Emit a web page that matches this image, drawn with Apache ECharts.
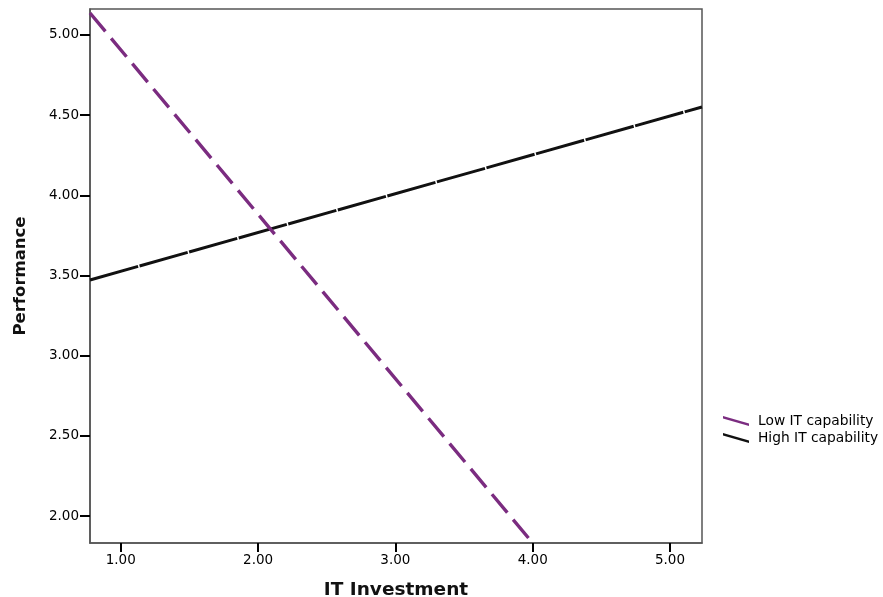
<!DOCTYPE html>
<html>
<head>
<meta charset="utf-8">
<script src="https://cdn.jsdelivr.net/npm/echarts@6/dist/echarts.min.js"></script>
<style>
html,body{margin:0;padding:0;background:#fff;}
#c{width:883px;height:597px;}
</style>
</head>
<body>
<div id="c"></div>
<script>
var seriesNames = ['Low IT capability', 'High IT capability'];
var lowX = [0.776, 4.0];
var lowY = [5.137, 1.832];
var highX = [0.776, 5.233];
var highY = [3.472, 4.551];
var xTicks = [1, 2, 3, 4, 5];
var yTicks = [2, 2.5, 3, 3.5, 4, 4.5, 5];
var xRange = [0.776, 5.233];
var yRange = [1.832, 5.162];

function pairs(xs, ys) { return xs.map(function (x, i) { return [x, ys[i]]; }); }

var chart = echarts.init(document.getElementById('c'));
var font = '"DejaVu Sans", sans-serif';
chart.setOption({
  animation: false,
  backgroundColor: '#fff',
  grid: { left: 90, top: 9, right: 181, bottom: 54, containLabel: false, outerBoundsMode: 'none', show: true, borderColor: '#555', borderWidth: 1.5, backgroundColor: 'transparent' },
  xAxis: {
    type: 'value', min: xRange[0], max: xRange[1],
    name: 'IT Investment', nameLocation: 'middle', nameGap: 38,
    nameTextStyle: { fontFamily: font, fontWeight: 'bold', fontSize: 18.5, color: '#111' },
    axisLine: { show: true, lineStyle: { color: '#555', width: 1.5 } },
    axisTick: { show: true, length: 9, customValues: xTicks, lineStyle: { color: '#000', width: 2 } },
    axisLabel: { customValues: xTicks, margin: 10, fontFamily: font, fontSize: 13.5, color: '#000', formatter: function (v) { return v.toFixed(2); } },
    splitLine: { show: false }
  },
  yAxis: {
    type: 'value', min: yRange[0], max: yRange[1],
    name: 'Performance', nameLocation: 'middle', nameGap: 61, nameRotate: 90,
    nameTextStyle: { fontFamily: font, fontWeight: 'bold', fontSize: 16.5, color: '#111' },
    axisLine: { show: true, lineStyle: { color: '#555', width: 1.5 } },
    axisTick: { show: true, length: 10, customValues: yTicks, lineStyle: { color: '#000', width: 2 } },
    axisLabel: { customValues: yTicks, margin: 11, fontFamily: font, fontSize: 13.5, color: '#000', formatter: function (v) { return v.toFixed(2); } },
    splitLine: { show: false }
  },
  legend: {
    orient: 'vertical', left: 723, top: 414, padding: 0, itemGap: 3, itemWidth: 26, itemHeight: 10,
    textStyle: { fontFamily: font, fontSize: 13.8, color: '#000', padding: [0, 0, 0, 4] },
    itemStyle: { borderWidth: 0 },
    data: [
      { name: seriesNames[0], icon: 'path://M0,0L26,7.5L26,10L0,2.5Z', itemStyle: { color: '#7b2c80' } },
      { name: seriesNames[1], icon: 'path://M0,0L26,7.5L26,10L0,2.5Z', itemStyle: { color: '#111' } }
    ]
  },
  series: [
    {
      name: seriesNames[0], type: 'line', data: pairs(lowX, lowY), showSymbol: false, symbol: 'none',
      itemStyle: { color: '#7b2c80' },
      lineStyle: { color: '#7b2c80', width: 3.4, type: [24, 9] }, clip: true, z: 3
    },
    {
      name: seriesNames[1], type: 'line', data: pairs(highX, highY), showSymbol: false, symbol: 'none',
      itemStyle: { color: '#111' },
      lineStyle: { color: '#111', width: 3, type: [50, 1.5] }, clip: true, z: 2
    }
  ]
});
</script>
</body>
</html>
